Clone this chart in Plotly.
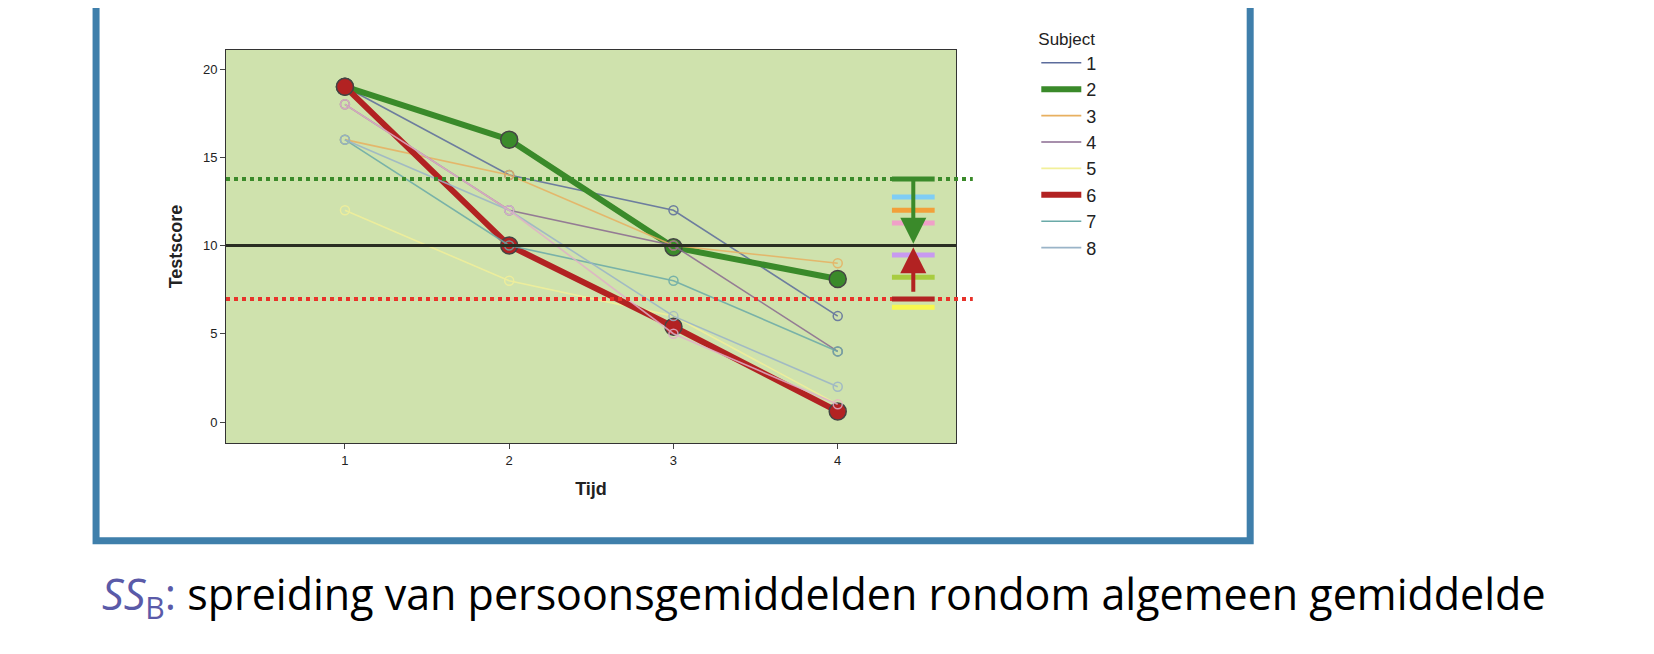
import plotly.graph_objects as go

tijd = [1, 2, 3, 4]
subjects = ["1", "2", "3", "4", "5", "6", "7", "8", "9"]
scores = {
    "1": [19, 14, 12, 6],
    "2": [19, 16, 9.9, 8.1],
    "3": [16, 14, 10, 9],
    "4": [18, 12, 10, 4],
    "5": [12, 8, 6, 1],
    "6": [19, 10, 5.4, 0.6],
    "7": [16, 10, 8, 4],
    "8": [16, 12, 6, 2],
    "9": [18, 12, 5, 1],
}
colors = {"1": "#5c6c9c", "2": "#3a8a2a", "3": "#e8b060", "4": "#8a6a90", "5": "#f2f09a",
          "6": "#b22222", "7": "#6aaaa8", "8": "#9ab4c8", "9": "#e0b0c8"}
grand_mean = 10
mean_s2 = 13.77
mean_s6 = 6.97
person_means = [12.75, 12.0, 11.27, 9.46, 8.2, 6.5]
person_colors = ["#7fcdf5", "#f2a03a", "#f0a0c8", "#c89af0", "#a8cc40", "#f8f850"]

fig = go.Figure()
for s in subjects:
    bold = s in ("2", "6")
    fig.add_trace(go.Scatter(
        x=tijd, y=scores[s], name=s, mode="lines+markers", legendgroup=s,
        line=dict(color=colors[s], width=6 if bold else 1.6),
        marker=dict(size=17 if bold else 9, color=colors[s],
                    symbol="circle" if bold else "circle-open", line=dict(width=1.5)),
        opacity=1 if bold else 0.85, showlegend=False))
    if s != "9":
        fig.add_trace(go.Scatter(
            x=[None], y=[None], name=s, mode="lines", legendgroup=s,
            line=dict(color=colors[s], width=6 if bold else 1.6)))

shapes = [
    dict(type="line", xref="paper", yref="y", x0=0, x1=1, y0=grand_mean, y1=grand_mean,
         line=dict(color="#2a2e22", width=3)),
    dict(type="line", xref="paper", yref="y", x0=0, x1=1.023, y0=mean_s2, y1=mean_s2,
         line=dict(color="#3a8a2a", width=4, dash="dot")),
    dict(type="line", xref="paper", yref="y", x0=0, x1=1.023, y0=mean_s6, y1=mean_s6,
         line=dict(color="#e8322a", width=4, dash="dot")),
    dict(type="line", xref="x", yref="y", x0=4.33, x1=4.59, y0=mean_s2, y1=mean_s2,
         line=dict(color="#3a8a2a", width=5)),
    dict(type="line", xref="x", yref="y", x0=4.33, x1=4.59, y0=mean_s6, y1=mean_s6,
         line=dict(color="#b22222", width=5)),
    dict(type="rect", xref="paper", yref="paper", x0=-0.178, x1=1.403, y0=-0.249, y1=1.2,
         line=dict(color="#3f7fab", width=7), layer="below"),
]
for v, c in zip(person_means, person_colors):
    shapes.append(dict(type="line", xref="x", yref="y", x0=4.33, x1=4.59, y0=v, y1=v,
                       line=dict(color=c, width=5)))

annotations = [
    dict(x=4.46, y=10.1, ax=4.46, ay=mean_s2, xref="x", yref="y", axref="x", ayref="y",
         showarrow=True, arrowhead=2, arrowsize=1.3, arrowwidth=4, arrowcolor="#3a8a2a", text=""),
    dict(x=4.46, y=9.9, ax=4.46, ay=7.3, xref="x", yref="y", axref="x", ayref="y",
         showarrow=True, arrowhead=2, arrowsize=1.3, arrowwidth=4, arrowcolor="#b22222", text=""),
    dict(xref="paper", yref="paper", x=-0.172, y=-0.39, xanchor="left", yanchor="middle",
         showarrow=False,
         text="<i><span style='color:#5a5aa8'>SS</span></i><span style='color:#5a5aa8'><sub>B</sub>:</span> spreiding van persoonsgemiddelden rondom algemeen gemiddelde",
         font=dict(family="Open Sans", size=43, color="black")),
]

fig.update_layout(
    width=1654, height=654,
    margin=dict(l=218, r=706, t=42, b=219),
    paper_bgcolor="white", plot_bgcolor="#cfe2ad",
    font=dict(family="Liberation Sans", color="#222"),
    shapes=shapes, annotations=annotations,
    legend=dict(x=1.11, y=1.07, xanchor="left", yanchor="top", title=dict(text="Subject", font=dict(size=17)),
                font=dict(size=18), tracegroupgap=11, bgcolor="rgba(0,0,0,0)", itemwidth=40),
    legend_traceorder="normal",
)
fig.update_xaxes(range=[0.276, 4.72], tickvals=tijd, ticks="outside", showgrid=False, zeroline=False,
                 showline=True, linecolor="#333", mirror=True, tickfont=dict(size=13),
                 title=dict(text="<b>Tijd</b>", font=dict(size=18)))
fig.update_yaxes(range=[-1.19, 21.08], tickvals=[0, 5, 10, 15, 20], ticks="outside", showgrid=False,
                 zeroline=False, showline=True, linecolor="#333", mirror=True, tickfont=dict(size=13),
                 title=dict(text="<b>Testscore</b>", font=dict(size=18)))
fig.write_html("out.html")
